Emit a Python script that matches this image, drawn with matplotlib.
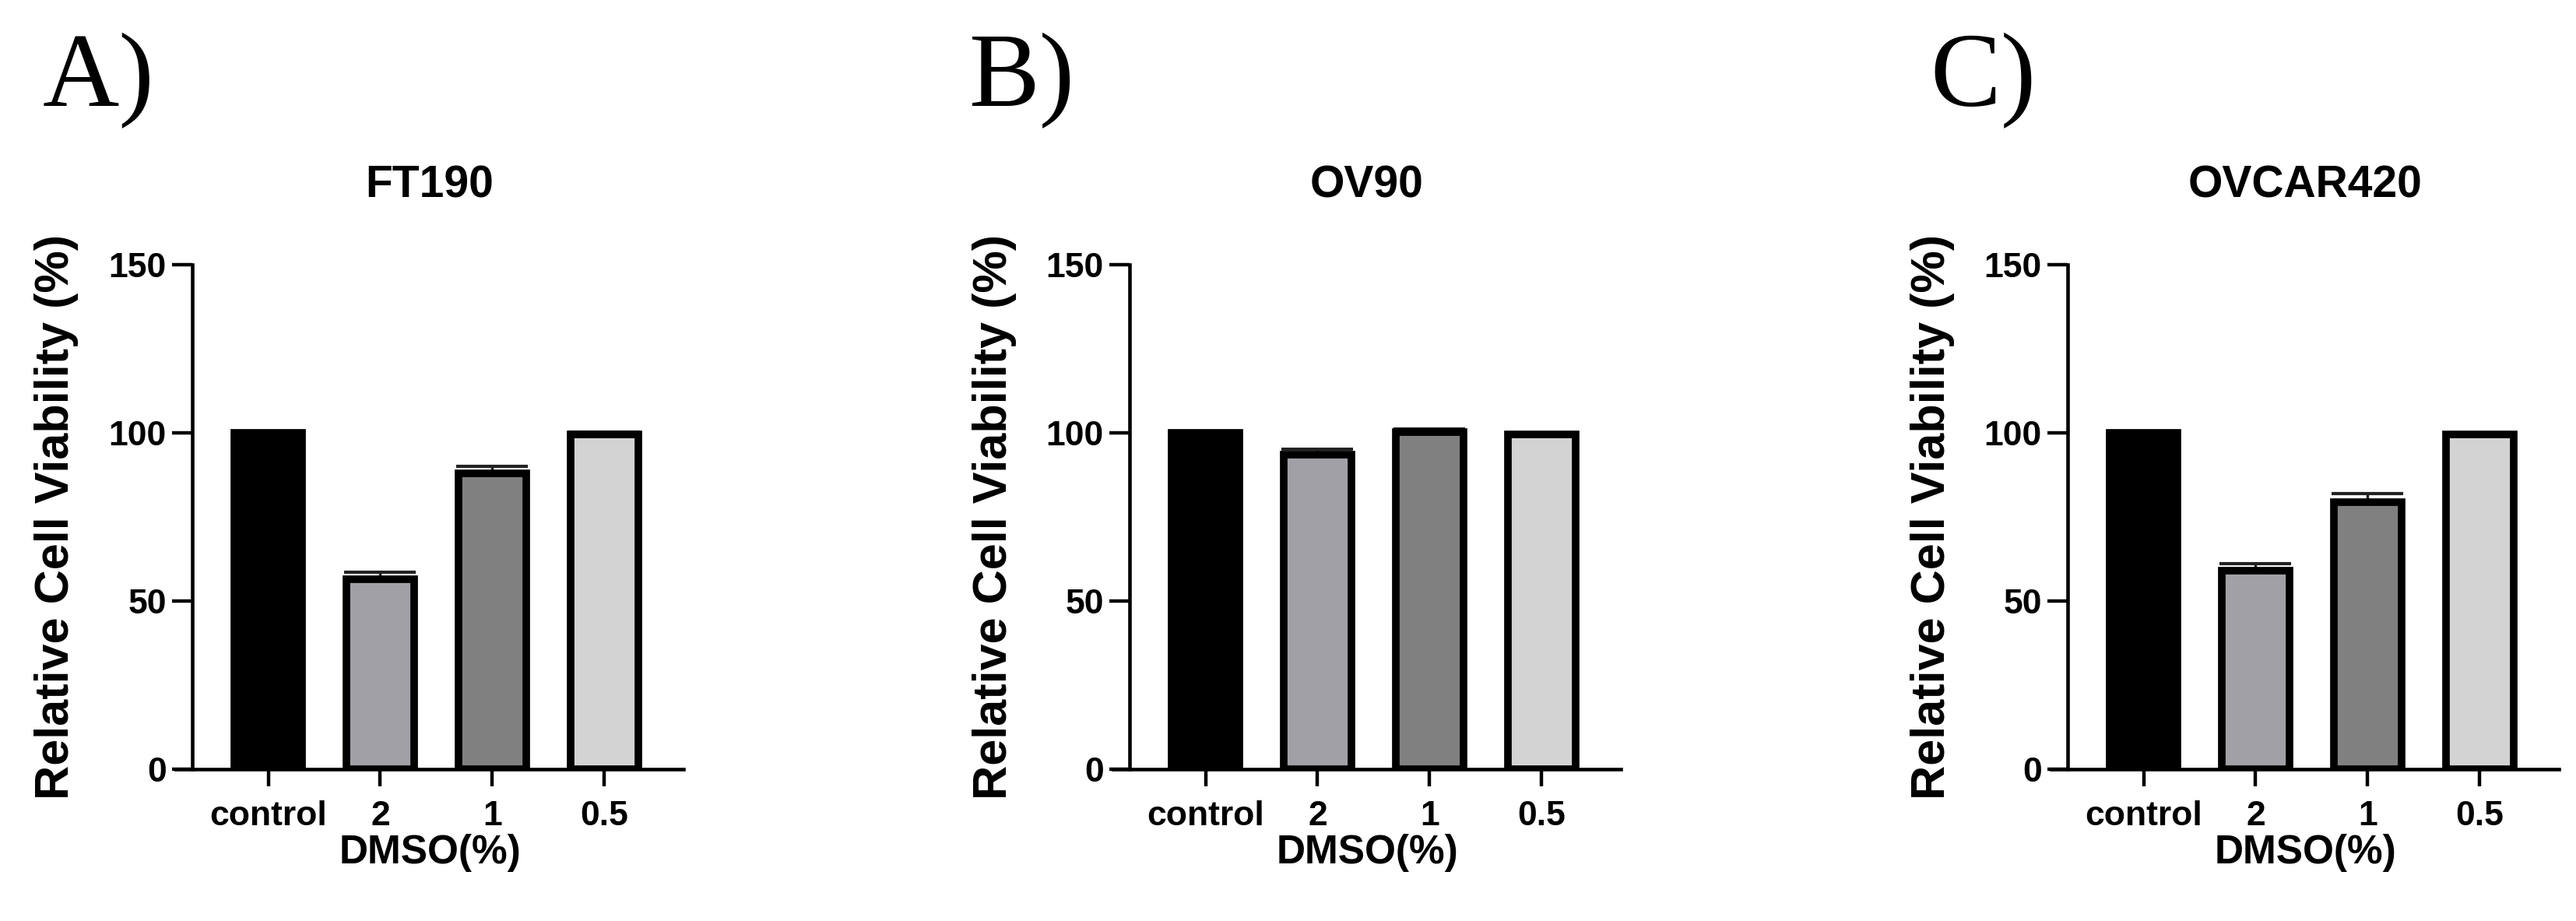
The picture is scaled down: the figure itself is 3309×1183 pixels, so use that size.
import matplotlib
matplotlib.use("Agg")
import matplotlib.pyplot as plt
import numpy as np

plt.rcParams['font.family'] = ['Liberation Sans', 'DejaVu Sans']
plt.rcParams['font.weight'] = 'bold'

## data
groups = ['control', '2', '1', '0.5']
cell_lines = ['FT190', 'OV90', 'OVCAR420']
panel_tags = ['A)', 'B)', 'C)']
viab_ft190 = [100, 56.5, 88, 99.5]
err_ft190 = [0, 2, 2, 0.7]
viab_ov90 = [100, 93.5, 100.3, 99.5]
err_ov90 = [0, 1.6, 0.8, 0.5]
viab_ovcar420 = [100, 59, 79.5, 99.5]
err_ovcar420 = [0, 2, 2.5, 0.6]
yticks = [0, 50, 100, 150]

bar_colors = ['#000000', '#a0a0a6', '#808080', '#d3d3d3']

W, H = 3309, 1183
fig = plt.figure(figsize=(W / 100, H / 100), dpi=100)

axes_left = [226, 1430, 2635]
tag_x = [55, 1244, 2479]
ax_w, ax_bottom, ax_top = 652, 988, 340

values = [viab_ft190, viab_ov90, viab_ovcar420]
errors = [err_ft190, err_ov90, err_ovcar420]

for k in range(3):
    ax = fig.add_axes([axes_left[k] / W, (H - ax_bottom) / H,
                       ax_w / W, (ax_bottom - ax_top) / H])
    x = np.arange(len(groups))
    ax.bar(x, values[k], width=0.6, color=bar_colors, edgecolor='black',
           linewidth=7, zorder=3)
    lower = [0] * len(groups)
    ax.errorbar(x, values[k], yerr=[lower, errors[k]], fmt='none',
                ecolor='#222222', elinewidth=2.5, capsize=33, capthick=3,
                zorder=2)
    ax.set_xlim(-0.823, 3.705)
    ax.set_ylim(0, 150)
    ax.set_yticks(yticks)
    ax.set_xticks(x)
    ax.set_xticklabels(groups)
    for s in ['top', 'right']:
        ax.spines[s].set_visible(False)
    ax.spines['left'].set_position(('data', -0.677))
    ax.spines['left'].set_bounds(0, 150)
    ax.spines['left'].set_linewidth(3.3)
    ax.spines['bottom'].set_linewidth(3.3)
    ax.tick_params(axis='y', length=19, width=3.2, pad=5, labelsize=32)
    ax.tick_params(axis='x', length=16, width=3.2, pad=13, labelsize=32)
    ax.set_ylabel('Relative Cell Viability (%)', fontsize=44, fontweight='bold', va='center')
    ax.yaxis.set_label_coords(-153 / ax_w, 0.5)
    ax.set_xlabel('DMSO(%)', fontsize=37, fontweight='bold', va='center')
    ax.xaxis.set_label_coords(0.5, -108 / (ax_bottom - ax_top))
    ax.text(0.5, 1 + 102 / (ax_bottom - ax_top), cell_lines[k], transform=ax.transAxes,
            ha='center', va='center', fontsize=41, fontweight='bold')
    fig.text(tag_x[k] / W, 1 - 136 / H, panel_tags[k], family='Liberation Serif',
             fontweight='normal', fontsize=98, ha='left', va='baseline')

fig.savefig('out.png', dpi=100, facecolor='white')
